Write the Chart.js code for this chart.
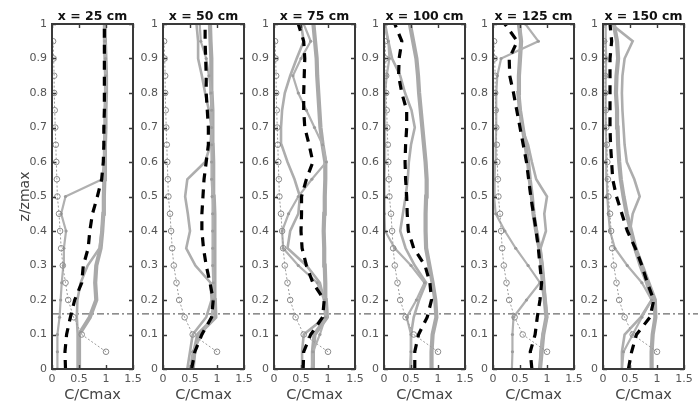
<!DOCTYPE html>
<html>
<head>
<meta charset="utf-8">
<script src="https://cdn.jsdelivr.net/npm/chart.js@4.4.1/dist/chart.umd.min.js"></script>
<style>
  html, body { margin: 0; padding: 0; background: #fff; width: 698px; height: 407px; overflow: hidden; }
  canvas.panel { position: absolute; top: 0; }
</style>
</head>
<body>
<script>
// ---------------- DATA ----------------
const panelTitles = ['x = 25 cm', 'x = 50 cm', 'x = 75 cm', 'x = 100 cm', 'x = 125 cm', 'x = 150 cm'];
const yTickLabels = ['0', '0.1', '0.2', '0.3', '0.4', '0.5', '0.6', '0.7', '0.8', '0.9', '1'];
const xTickLabels = ['0', '0.5', '1', '1.5'];
const refLevel = 0.16;   // z/zmax of the dash-dot reference line

// common z/zmax levels of the measured profiles
const zLevels = [0, 0.05, 0.1, 0.15, 0.2, 0.25, 0.3, 0.35, 0.4, 0.45, 0.5, 0.55, 0.6, 0.65, 0.7, 0.75, 0.8, 0.85, 0.9, 0.95, 1];

// reference (initial) profile, open circles
const circleZ = [0.05, 0.1, 0.15, 0.2, 0.25, 0.3, 0.35, 0.4, 0.45, 0.5, 0.55, 0.6, 0.65, 0.7, 0.75, 0.8, 0.85, 0.9, 0.95];
const circleC = [1.0, 0.55, 0.4, 0.3, 0.25, 0.2, 0.17, 0.15, 0.13, 0.1, 0.09, 0.08, 0.07, 0.06, 0.05, 0.04, 0.04, 0.03, 0.02];

// x = 25 cm
const p1A = [0.5, 0.5, 0.5, 0.7, 0.82, 0.8, 0.82, 0.9, 0.93, 0.95, 0.96, 0.97, 0.98, 0.98, 0.99, 0.99, 1.0, 1.0, 0.99, 0.98, 0.98];
const p1B = [0.48, 0.48, 0.47, 0.46, 0.47, 0.53, 0.66, 0.88, 0.92, 0.95, 0.96, 0.97, 0.98, 0.98, 0.99, 0.99, 1.0, 1.0, 0.99, 0.98, 0.98];
const p1C = [0.1, 0.1, 0.1, 0.14, 0.16, 0.18, 0.21, 0.22, 0.26, 0.17, 0.25, 0.93, 0.96, 0.97, 0.98, 0.98, 0.99, 0.99, 0.99, 0.98, 0.98];
const p1D = [0.25, 0.24, 0.27, 0.34, 0.42, 0.55, 0.58, 0.67, 0.7, 0.75, 0.84, 0.92, 0.95, 0.96, 0.96, 0.97, 0.97, 0.97, 0.97, 0.97, 0.97];
// x = 50 cm
const p2A = [0.55, 0.58, 0.65, 0.97, 0.96, 0.96, 0.95, 0.95, 0.95, 0.95, 0.94, 0.93, 0.93, 0.92, 0.92, 0.91, 0.9, 0.9, 0.89, 0.88, 0.87];
const p2B = [0.45, 0.5, 0.55, 0.8, 0.9, 0.88, 0.6, 0.43, 0.5, 0.46, 0.41, 0.45, 0.78, 0.88, 0.9, 0.85, 0.78, 0.72, 0.65, 0.65, 0.62];
const p2C = [0.5, 0.55, 0.72, 0.9, 0.93, 0.93, 0.92, 0.92, 0.92, 0.92, 0.91, 0.9, 0.9, 0.9, 0.9, 0.9, 0.89, 0.85, 0.8, 0.7, 0.68];
const p2D = [0.53, 0.59, 0.72, 0.9, 0.93, 0.87, 0.8, 0.75, 0.72, 0.72, 0.74, 0.76, 0.8, 0.84, 0.84, 0.82, 0.8, 0.8, 0.79, 0.78, 0.78];
// x = 75 cm
const p3A = [0.71, 0.72, 0.75, 0.98, 0.96, 0.95, 0.94, 0.93, 0.92, 0.93, 0.94, 0.95, 0.95, 0.9, 0.86, 0.84, 0.82, 0.8, 0.79, 0.76, 0.73];
const p3B = [0.52, 0.52, 0.55, 0.95, 0.93, 0.85, 0.6, 0.25, 0.3, 0.45, 0.48, 0.38, 0.25, 0.14, 0.13, 0.15, 0.2, 0.3, 0.42, 0.55, 0.5];
const p3C = [0.7, 0.72, 0.85, 0.95, 0.93, 0.8, 0.45, 0.17, 0.15, 0.27, 0.45, 0.7, 0.97, 0.9, 0.75, 0.6, 0.45, 0.35, 0.5, 0.68, 0.55];
const p3D = [0.54, 0.55, 0.68, 0.9, 0.93, 0.72, 0.6, 0.52, 0.5, 0.51, 0.51, 0.6, 0.72, 0.65, 0.57, 0.55, 0.55, 0.56, 0.57, 0.55, 0.45];
// x = 100 cm
const p4A = [0.88, 0.88, 0.9, 0.97, 0.95, 0.9, 0.84, 0.78, 0.77, 0.77, 0.78, 0.79, 0.77, 0.74, 0.71, 0.68, 0.65, 0.63, 0.6, 0.54, 0.48];
const p4B = [0.5, 0.5, 0.5, 0.55, 0.65, 0.78, 0.57, 0.4, 0.3, 0.35, 0.4, 0.44, 0.46, 0.5, 0.57, 0.51, 0.39, 0.3, 0.15, 0.08, 0.02];
const p4C = [0.48, 0.5, 0.5, 0.42, 0.6, 0.75, 0.5, 0.2, 0.02, 0.01, 0.01, 0.01, 0.02, 0.02, 0.02, 0.02, 0.02, 0.05, 0.1, 0.08, 0.0];
const p4D = [0.57, 0.57, 0.64, 0.8, 0.88, 0.85, 0.76, 0.55, 0.45, 0.43, 0.42, 0.4, 0.39, 0.4, 0.42, 0.42, 0.33, 0.27, 0.28, 0.33, 0.2];
// x = 125 cm
const p5A = [0.87, 0.9, 0.93, 0.99, 0.96, 0.92, 0.9, 0.86, 0.8, 0.75, 0.72, 0.68, 0.65, 0.6, 0.55, 0.5, 0.47, 0.48, 0.5, 0.52, 0.48];
const p5B = [0.87, 0.88, 0.92, 1.0, 0.97, 0.95, 0.92, 0.88, 0.98, 0.95, 1.0, 0.8, 0.72, 0.65, 0.53, 0.5, 0.48, 0.48, 0.5, 0.52, 0.5];
const p5C = [0.35, 0.36, 0.36, 0.38, 0.62, 0.87, 0.65, 0.42, 0.22, 0.05, 0.02, 0.03, 0.04, 0.05, 0.06, 0.06, 0.06, 0.08, 0.15, 0.84, 0.6];
const p5D = [0.72, 0.69, 0.78, 0.82, 0.87, 0.9, 0.87, 0.84, 0.8, 0.75, 0.7, 0.66, 0.62, 0.56, 0.5, 0.44, 0.38, 0.31, 0.3, 0.45, 0.22];
// x = 150 cm
const p6A = [0.9, 0.9, 0.92, 0.97, 0.96, 0.84, 0.72, 0.6, 0.52, 0.44, 0.38, 0.33, 0.3, 0.28, 0.27, 0.26, 0.24, 0.25, 0.28, 0.26, 0.2];
const p6B = [0.35, 0.35, 0.4, 0.7, 0.9, 0.8, 0.68, 0.58, 0.5, 0.55, 0.68, 0.58, 0.44, 0.4, 0.38, 0.36, 0.35, 0.36, 0.4, 0.55, 0.15];
const p6C = [0.35, 0.38, 0.55, 0.72, 0.9, 0.72, 0.45, 0.22, 0.13, 0.1, 0.08, 0.07, 0.06, 0.06, 0.05, 0.05, 0.05, 0.05, 0.06, 0.05, 0.05];
const p6D = [0.47, 0.53, 0.62, 0.87, 0.94, 0.82, 0.72, 0.6, 0.45, 0.35, 0.25, 0.18, 0.16, 0.14, 0.13, 0.13, 0.13, 0.13, 0.13, 0.16, 0.13];

const seriesA = [p1A, p2A, p3A, p4A, p5A, p6A];
const seriesB = [p1B, p2B, p3B, p4B, p5B, p6B];
const seriesC = [p1C, p2C, p3C, p4C, p5C, p6C];
const seriesD = [p1D, p2D, p3D, p4D, p5D, p6D];

// ---------------- LAYOUT ----------------
const PANEL_LEFT = [52, 163, 274, 384, 493, 603];
const PLOT_W = 81, AXIS_W = 44, CANVAS_W = 156, CANVAS_H = 407;
const TOP_H = 24, BOTTOM_H = 38;
const X_MAX = 1.5;

const frameTicks = {
  id: 'frameTicks',
  afterDatasetsDraw(chart) {
    const { ctx, chartArea: { left, right, top, bottom }, scales: { x, y } } = chart;
    ctx.save();
    ctx.strokeStyle = '#3a3a3a';
    ctx.lineWidth = 1.4;
    ctx.beginPath();
    y.ticks.forEach(t => {
      const py = Math.round(y.getPixelForValue(t.value)) + 0.5;
      ctx.moveTo(left, py); ctx.lineTo(left + 4, py);
      ctx.moveTo(right, py); ctx.lineTo(right - 4, py);
    });
    x.ticks.forEach(t => {
      const px = Math.round(x.getPixelForValue(t.value)) + 0.5;
      ctx.moveTo(px, top); ctx.lineTo(px, top + 4);
      ctx.moveTo(px, bottom); ctx.lineTo(px, bottom - 4);
    });
    ctx.stroke();
    ctx.lineWidth = 2;
    ctx.strokeRect(left, top, right - left, bottom - top);
    ctx.restore();
  }
};

const pts = (xs, zs) => xs.map((v, i) => ({ x: v, y: zs[i] }));

PANEL_LEFT.forEach((L, i) => {
  const cv = document.createElement('canvas');
  cv.className = 'panel';
  cv.width = CANVAS_W; cv.height = CANVAS_H;
  cv.style.left = (L - AXIS_W) + 'px';
  cv.style.width = CANVAS_W + 'px'; cv.style.height = CANVAS_H + 'px';
  document.body.appendChild(cv);

  const nextLeft = (i < PANEL_LEFT.length - 1) ? PANEL_LEFT[i + 1] : 698;
  const xEnd = X_MAX * (nextLeft - L) / PLOT_W;

  new Chart(cv, {
    type: 'line',
    data: {
      datasets: [
        { data: pts(seriesD[i], zLevels), borderColor: '#000', borderWidth: 3.2, borderDash: [9, 7], pointRadius: 0, fill: false },
        { data: pts(circleC, circleZ), borderColor: '#9a9a9a', borderWidth: 1, borderDash: [2, 2], pointRadius: 2.8, pointStyle: 'circle',
          pointBorderColor: '#8a8a8a', pointBorderWidth: 1, pointBackgroundColor: 'rgba(255,255,255,0)', fill: false },
        { data: pts(seriesC[i], zLevels), borderColor: '#b0b0b0', borderWidth: 2.2, pointRadius: 1.6, pointBorderWidth: 0,
          pointBackgroundColor: '#9c9c9c', fill: false },
        { data: pts(seriesB[i], zLevels), borderColor: '#adadad', borderWidth: 2.6, pointRadius: 0, fill: false },
        { data: pts(seriesA[i], zLevels), borderColor: '#a9a9a9', borderWidth: 4.2, pointRadius: 0, fill: false },
        { data: [{ x: 0, y: refLevel }, { x: xEnd, y: refLevel }], borderColor: '#6a6a6a', borderWidth: 1.2,
          borderDash: [7, 3, 2, 3], pointRadius: 0, fill: false, clip: false }
      ]
    },
    options: {
      responsive: false,
      animation: false,
      events: [],
      layout: { padding: { top: 0, left: 0, bottom: 0, right: CANVAS_W - AXIS_W - PLOT_W } },
      plugins: { legend: { display: false }, tooltip: { enabled: false }, title: { display: false } },
      scales: {
        x: {
          type: 'linear', position: 'bottom', min: 0, max: X_MAX,
          grid: { display: false, drawTicks: false }, border: { display: false },
          ticks: { stepSize: 0.5, padding: 4, color: '#555', font: { family: 'DejaVu Sans', size: 11 },
                   maxRotation: 0, callback: (v, idx) => xTickLabels[idx] },
          title: { display: true, text: 'C/Cmax', color: '#444', font: { family: 'DejaVu Sans', size: 14.5 },
                   padding: { top: 0, bottom: 3 } },
          afterFit: s => { s.height = BOTTOM_H; }
        },
        xTop: {
          type: 'linear', position: 'top', min: 0, max: X_MAX,
          grid: { display: false, drawTicks: false }, border: { display: false },
          ticks: { display: false },
          title: { display: true, text: panelTitles[i], color: '#111', font: { family: 'DejaVu Sans', size: 12.5, weight: 'bold' },
                   padding: { top: 9, bottom: 0 } },
          afterFit: s => { s.height = TOP_H; }
        },
        y: {
          type: 'linear', position: 'left', min: 0, max: 1,
          grid: { display: false, drawTicks: false }, border: { display: false },
          ticks: { stepSize: 0.1, padding: 5, color: '#555', font: { family: 'DejaVu Sans', size: 11 },
                   callback: (v, idx) => yTickLabels[idx] },
          title: { display: i === 0, text: 'z/zmax', color: '#444', font: { family: 'DejaVu Sans', size: 14 },
                   padding: { top: 9, bottom: 0 } },
          afterFit: s => { s.width = AXIS_W; }
        }
      }
    },
    plugins: [frameTicks]
  });
});
</script>
</body>
</html>
